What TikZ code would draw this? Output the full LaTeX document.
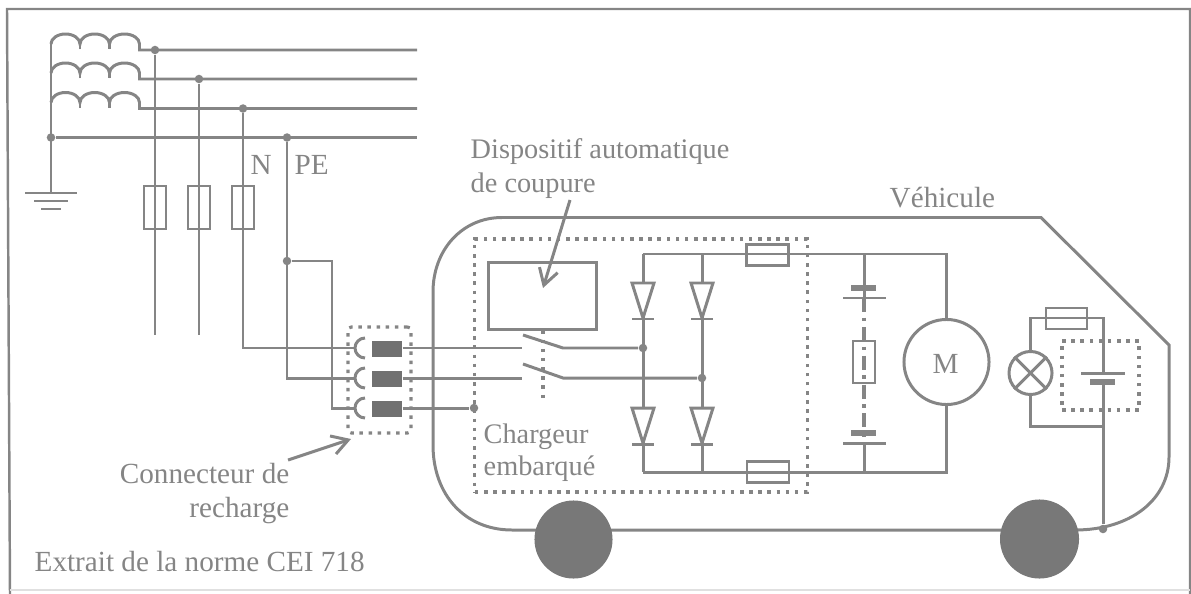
\documentclass[tikz,border=0pt]{standalone}
\usepackage{fontspec}
\setmainfont{Liberation Serif}
\usepackage{tikz}
\usetikzlibrary{arrows.meta}
\usetikzlibrary{calc}
\definecolor{trait}{gray}{0.52}
\definecolor{roue}{gray}{0.47}
\tikzset{
	fil/.style={draw=trait,line width=0.85pt},
	fusible/.style={draw=trait,line width=0.8pt,fill=none,inner sep=0pt,minimum width=0.22cm,minimum height=0.43cm},
	fusibleh/.style={draw=trait,line width=0.8pt,fill=none,inner sep=0pt,minimum width=0.42cm,minimum height=0.21cm},
	point/.style={circle,fill=trait,inner sep=0pt,minimum size=0.085cm},
	pointille/.style={draw=trait,line width=0.9pt,dash pattern=on 1pt off 1.6pt},
	bloc/.style={fill=trait!85!black,inner sep=0pt,minimum width=0.3cm,minimum height=0.16cm},
	texte/.style={text=trait,font=\fontsize{8.3}{8.3}\selectfont,inner sep=0pt,anchor=base west},
	texteb/.style={texte,font=\fontsize{8.05}{8.05}\selectfont},
	fleche/.style={fil,-{Straight Barb[length=1.6mm,width=1.9mm]}},
}
\begin{document}
\begin{tikzpicture}[x=0.01cm,y=-0.01cm]
	\useasboundingbox (0,0) rectangle (1191,594);
	% cadre
	\draw[fil,line width=0.7pt] (1190,594) -- (1190,9) -- (7,9) -- (10,594);
	\draw[trait!25,line width=0.4pt] (10,590) -- (1190,590);

	% enroulements et lignes
	\foreach \ligne/\py/\px in {1/50/155,2/79/199,3/108.5/243} {
		\coordinate (deb\ligne) at (51,\py-6);
		\node[point] (j\ligne) at (\px,\py) {};
		\coordinate (fin\ligne) at (417,\py);
		\coordinate (bas\ligne) at (\px,335);
		\draw[fil] (deb\ligne) arc[start angle=180,end angle=360,x radius=14.5,y radius=10] arc[start angle=180,end angle=360,x radius=14.75,y radius=10] arc[start angle=180,end angle=360,x radius=15,y radius=10] -- ++(0,6) -- (fin\ligne);
		\draw[fil] (80,\py-6) -- ++(0,5);
		\draw[fil] (109.5,\py-6) -- ++(0,5);
	}
	\node[point] (neutre) at (51,137.5) {};
	\node[point] (pe) at (287,137.5) {};
	\coordinate (fin4) at (417,137.5);
	\coordinate (terre) at (51,193);
	\draw[fil] (deb1) -- (terre);
	\draw[fil] (neutre) -- (fin4);
	\draw[fil] (25,193) -- (77,193);
	\draw[fil] (34,201) -- (68,201);
	\draw[fil] (41,209) -- (61,209);

	% fusibles du reseau
	\foreach \ligne/\px in {1/155,2/199,3/243} {
		\node[fusible] (f\ligne) at (\px,207.5) {};
	}
	\draw[fil] (j1) -- (bas1);
	\draw[fil] (j2) -- (bas2);

	\node[texte] (labn) at (250,174) {N};
	\node[texte] (labpe) at (294,174) {PE};

	% connecteur
	\node[pointille,minimum width=0.63cm,minimum height=1.06cm,inner sep=0pt,rounded corners=1pt] (conn) at (379.5,380) {};
	\foreach \ligne/\py in {1/348,2/378,3/408} {
		\node[bloc] (b\ligne) at (387,\py+0.5) {};
		\coordinate (c\ligne) at (355,\py);
		\draw[fil] (365,\py-10) arc[start angle=270,end angle=90,radius=10];
	}
	\node[point] (jterre) at (287,261) {};
	\node[point] (jchas) at (474,408) {};
	\coordinate (a1) at (243,348);
	\coordinate (a2) at (287,378);
	\coordinate (a3) at (332,408);
	\draw[fil] (j3) -- (a1) -- (c1);
	\draw[fil] (pe) -- (a2) -- (c2);
	\draw[fil] (jterre) -| (a3) -- (c3);
	\draw[fil] (b3.east |- jchas) -- (jchas);

	% vehicule
	\draw[fil] (1041,217.5) -- (502,217.5) .. controls (462,217.5) and (433,250) .. (433,292) -- (433,445) .. controls (433,495) and (465,530) .. (512,530) -- (1075,530) .. controls (1130,530) and (1169,500) .. (1169,457) -- (1169,345) -- cycle;
	\node[circle,fill=roue,inner sep=0pt,minimum size=0.78cm] (rg) at (573.5,539.5) {};
	\node[circle,fill=roue,inner sep=0pt,minimum size=0.79cm] (rd) at (1039.5,539) {};

	% chargeur
	\node[pointille,inner sep=0pt,minimum width=3.32cm,minimum height=2.53cm] (chargeur) at (641,365.5) {};
	\node[fil,inner sep=0pt,minimum width=1.07cm,minimum height=0.66cm] (coupure) at (542.5,296) {};
	\coordinate (blame) at (543,399);
	\draw[pointille] (coupure.south -| blame) -- (blame);
	\node[point] (j4) at (643,348) {};
	\node[point] (j5) at (702,378) {};
	\coordinate (s1) at (522,348);
	\coordinate (s2) at (522,378);
	\draw[fil] (b1.east |- s1) -- (s1);
	\draw[fil] (b2.east |- s2) -- (s2);
	\draw[fil] (523,335) -- (563,348) -- (j4);
	\draw[fil] (523,364) -- (563,378) -- (j5);

	% pont de diodes
	\foreach \px/\j in {643/a,702/b} {
		\coordinate (h\j) at (\px,254);
		\coordinate (m\j) at (\px,472);
		\draw[fil] (h\j) -- (m\j);
		\foreach \py in {283,408} {
			\draw[fil,fill=white] (\px-11,\py) -- (\px+11,\py) -- (\px,\py+35) -- cycle;
			\draw[fil] (\px-11,\py+36) -- (\px+11,\py+36);
		}
	}

	% batterie et moteur
	\node[fusibleh] (fh) at (767.5,255) {};
	\node[fusibleh] (fb) at (768,472) {};
	\node[circle,draw=trait,line width=0.85pt,inner sep=0pt,minimum size=0.85cm] (moteur) at (946.5,362) {};
	\node[texte] (labm) at (932,373) {M};
	\coordinate (hm) at (946.5,254);
	\coordinate (bm) at (946.5,472);
	\draw[fil] (ha) -- (hm) -- (moteur);
	\draw[fil] (ma) -- (bm) -- (moteur);
	\coordinate (bh) at (864,254);
	\coordinate (bb) at (864,472);
	\coordinate (bh2) at (864,298);
	\coordinate (bb2) at (864,443);
	\draw[fil] (bh) -- (bh2);
	\draw[fil] (bb2) -- (bb);
	\draw[pointille,dash pattern=on 4pt off 1.6pt on 1pt off 1.6pt] (bh2) -- (bb2);
	\node[fusible,minimum height=0.42cm,minimum width=0.22cm] (fm) at (864,362) {};
	\draw[fil,line width=1.6pt] (851,288) -- (876,288);
	\draw[fil] (843,298) -- (886,298);
	\draw[fil,line width=1.6pt] (851,433) -- (876,433);
	\draw[fil] (843,443) -- (886,443);

	% circuit de bord
	\node[circle,draw=trait,line width=0.85pt,inner sep=0pt,minimum size=0.43cm] (lampe) at (1030.5,373) {};
	\draw[fil] (lampe.north west) -- (lampe.south east);
	\draw[fil] (lampe.north east) -- (lampe.south west);
	\node[fusibleh,minimum width=0.41cm] (fl) at (1066.5,318.5) {};
	\node[point] (jb) at (1103,529) {};
	\coordinate (g1) at (1030.5,318);
	\coordinate (g2) at (1103,318);
	\coordinate (g3) at (1030.5,426);
	\coordinate (g4) at (1103,426);
	\draw[fil] (lampe) -- (g1) -- (g2) -- (jb);
	\draw[fil] (lampe) -- (g3) -- (g4);
	\node[pointille,inner sep=0pt,minimum width=0.77cm,minimum height=0.69cm] (batbord) at (1100.5,375.5) {};
	\fill[white] (1095,374.5) rectangle (1111,380.5);
	\draw[fil] (1081,373) -- (1125,373);
	\draw[fil,line width=1.6pt] (1090,382) -- (1115,382);

	% textes
	\node[texteb] (labdisp) at (470,158) {Dispositif automatique};
	\node[texteb] (labcoup) at (470,192) {de coupure};
	\node[texte] (labveh) at (889,207) {Véhicule};
	\node[texteb] (labch) at (483,443) {Chargeur};
	\node[texteb] (labem) at (483,475) {embarqué};
	\node[texte,anchor=base east] (labco) at (290,483) {Connecteur de};
	\node[texte,anchor=base east] (labre) at (290,517) {recharge};
	\node[texte] (labext) at (34,571.5) {Extrait de la norme CEI 718};

	% fleches
	\coordinate (fl1) at (570,200);
	\coordinate (fl2) at (543,288);
	\coordinate (fl3) at (288,460);
	\coordinate (fl4) at (351,439);
	\draw[fleche] (fl1) -- (fl2);
	\draw[fleche] (fl3) -- (fl4);
\end{tikzpicture}
\end{document}
